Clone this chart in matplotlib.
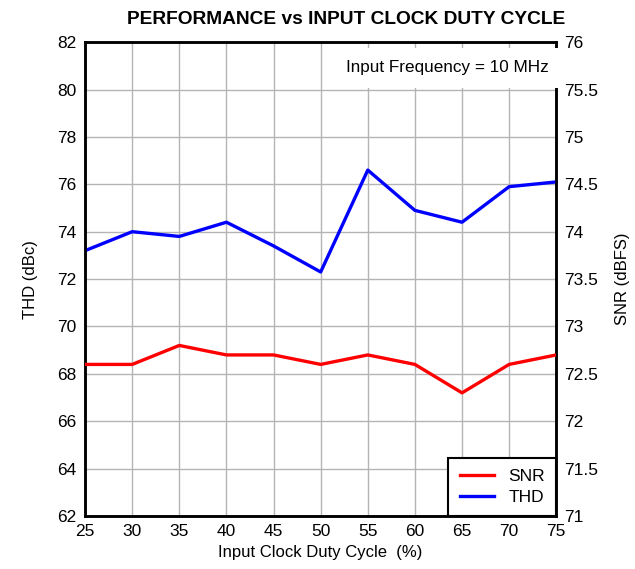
import matplotlib.pyplot as plt
import numpy as np

plt.rcParams['font.family'] = ['Liberation Sans', 'DejaVu Sans']

duty = [25, 30, 35, 40, 45, 50, 55, 60, 65, 70, 75]
thd = [73.2, 74.0, 73.8, 74.4, 73.4, 72.3, 76.6, 74.9, 74.4, 75.9, 76.1]
snr = [72.6, 72.6, 72.8, 72.7, 72.7, 72.6, 72.7, 72.6, 72.3, 72.6, 72.7]

fig = plt.figure(figsize=(6.35, 5.69), dpi=100)
ax1 = fig.add_axes([0.134, 0.093, 0.742, 0.833])
ax2 = ax1.twinx()

ax1.plot(duty, thd, color='#0000ff', linewidth=2.4, label='THD', zorder=3)
ax2.plot(duty, snr, color='#ff0000', linewidth=2.4, label='SNR', zorder=3)

ax1.set_xlim(25, 75)
ax1.set_ylim(62, 82)
ax2.set_ylim(71, 76)
ax1.set_xticks(np.arange(25, 76, 5))
ax1.set_yticks(np.arange(62, 83, 2))
ax2.set_yticks(np.arange(71, 76.1, 0.5))
ax2.set_yticklabels(['71', '71.5', '72', '72.5', '73', '73.5', '74', '74.5', '75', '75.5', '76'])

ax1.grid(True, color='#b4b4b4', linewidth=1.0)
for ax in (ax1, ax2):
    ax.tick_params(length=0, labelsize=12.5, pad=6)
    for s in ax.spines.values():
        s.set_linewidth(1.8)

ax1.set_xlabel('Input Clock Duty Cycle  (%)', fontsize=12, labelpad=4)
ax1.set_ylabel('THD (dBc)', fontsize=12, labelpad=14)
ax2.set_ylabel('SNR (dBFS)', fontsize=12, labelpad=12)
fig.suptitle('PERFORMANCE vs INPUT CLOCK DUTY CYCLE', fontsize=13.8,
             fontweight='bold', x=0.545, y=0.98)

ax2.text(0.985, 0.962, 'Input Frequency = 10 MHz', transform=ax2.transAxes,
         ha='right', va='top', fontsize=12.3,
         bbox=dict(facecolor='white', edgecolor='none', pad=9))

h1, l1 = ax1.get_legend_handles_labels()
h2, l2 = ax2.get_legend_handles_labels()
leg = ax2.legend(h2 + h1, l2 + l1, loc='lower right', fontsize=12.5,
                 fancybox=False, borderaxespad=0, handlelength=2.0,
                 labelspacing=0.3, borderpad=0.65, handletextpad=0.8)
leg.get_frame().set_edgecolor('black')
leg.get_frame().set_linewidth(1.5)
leg.get_frame().set_alpha(1)

fig.savefig('out.png', dpi=100)
